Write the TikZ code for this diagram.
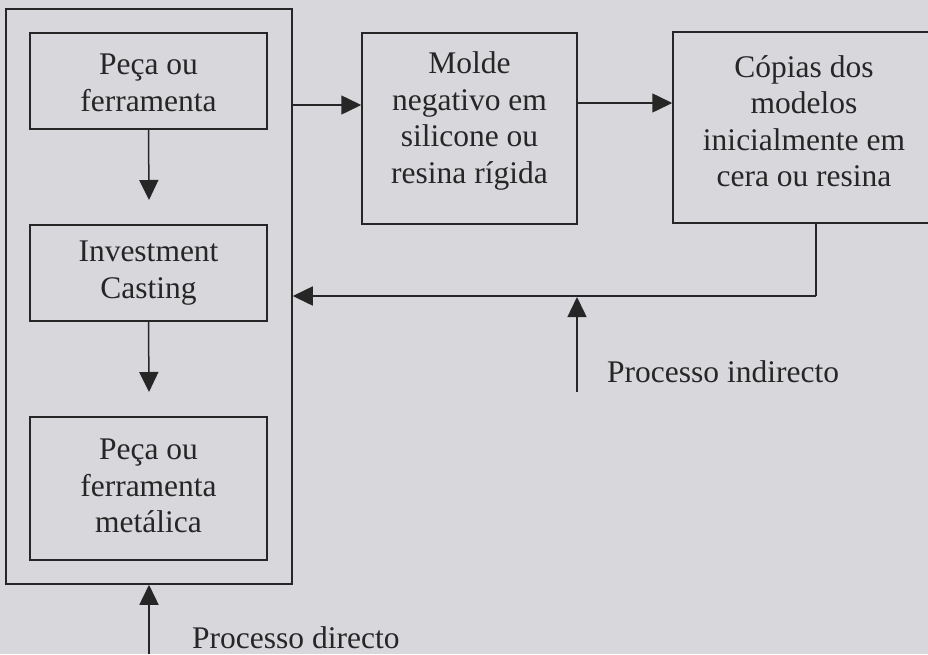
\documentclass[tikz,border=0pt]{standalone}
\usepackage{fontspec}
\setmainfont{Liberation Serif}
\usetikzlibrary{arrows.meta}
\definecolor{bg}{HTML}{D8D8DC}
\definecolor{ink}{HTML}{262626}
\tikzset{
  boxstyle/.style={draw=ink, line width=1.5pt, rectangle, inner sep=0pt},
  txt/.style={text=ink, align=center, font=\fontsize{31.5}{36.5}\selectfont, inner sep=0pt},
  arr/.style={draw=ink, line width=1.5pt, -{Triangle[length=20pt,width=19pt]}},
  ln/.style={draw=ink, line width=1.5pt}
}
\begin{document}
\begin{tikzpicture}[x=1pt,y=-1pt]
\fill[bg] (0,0) rectangle (928,654);
\useasboundingbox (0,0) rectangle (928,654);
\clip (0,0) rectangle (928,654);
% boxes
\node[boxstyle, minimum width=286pt, minimum height=575pt] (outer) at (149,296.5) {};
\node[boxstyle, minimum width=237pt, minimum height=96pt] (b1) at (148.5,81) {};
\node[txt] (t1) at (148.5,83) {Peça ou\\ferramenta};
\node[boxstyle, minimum width=237pt, minimum height=96pt] (b2) at (148.5,273) {};
\node[txt] (t2) at (148.5,273) {Investment\\Casting};
\node[boxstyle, minimum width=237pt, minimum height=143pt] (b3) at (148.5,488.5) {};
\node[txt] (t3) at (148.5,486) {Peça ou\\ferramenta\\metálica};
\node[boxstyle, minimum width=215pt, minimum height=191pt] (molde) at (469.5,128.5) {};
\node[txt] (t4) at (469.5,121) {Molde\\negativo em\\silicone ou\\resina rígida};
\node[boxstyle, minimum width=262pt, minimum height=191pt] (copias) at (804,127.5) {};
\node[txt] (t5) at (804,121) {Cópias dos\\modelos\\inicialmente em\\cera ou resina};
% labels
\node[txt, anchor=base west] (ind) at (607,382) {Processo indirecto};
\node[txt, anchor=base west] (dir) at (192,648) {Processo directo};
% coordinates
\coordinate (a1) at (149,200);
\coordinate (a2) at (149,392);
\coordinate (bot) at (149,654);
\coordinate (r1) at (0,105);
\coordinate (r2) at (0,103);
\coordinate (fb) at (816,296);
\coordinate (up) at (577,392);
\coordinate (uptip) at (577,297);
% connectors
\draw[arr] (b1.south) -- (a1);
\draw[arr] (b2.south) -- (a2);
\draw[arr] (bot) -- (outer.south);
\draw[arr] (outer.east |- r1) -- (molde.west |- r1);
\draw[arr] (molde.east |- r2) -- (copias.west |- r2);
\draw[ln] (copias.south -| fb) -- (fb);
\draw[arr] (fb) -- (outer.east |- fb);
\draw[arr] (up) -- (uptip);
\end{tikzpicture}
\end{document}
